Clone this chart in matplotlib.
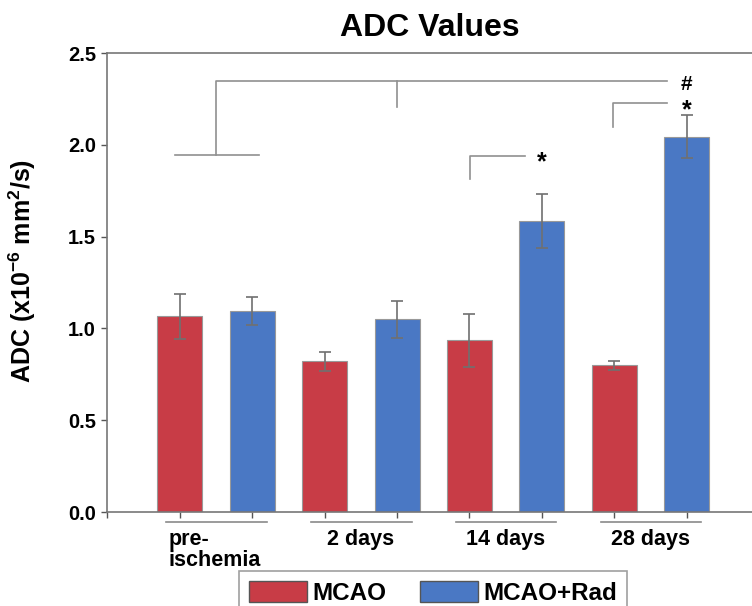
import matplotlib.pyplot as plt
from matplotlib.patches import Patch
import numpy as np

plt.rcParams['font.family'] = ['Liberation Sans', 'DejaVu Sans']
plt.rcParams['font.weight'] = 'bold'
plt.rcParams['mathtext.fontset'] = 'custom'
plt.rcParams['mathtext.rm'] = 'Liberation Sans:bold'
plt.rcParams['mathtext.bf'] = 'Liberation Sans:bold'
plt.rcParams['mathtext.default'] = 'bf'

groups = ['pre-\nischemia', '2 days', '14 days', '28 days']
mcao = [1.065, 0.82, 0.935, 0.80]
mcao_err = [0.12, 0.05, 0.145, 0.025]
rad = [1.095, 1.05, 1.585, 2.045]
rad_err = [0.075, 0.10, 0.145, 0.115]

RED = '#c83c46'
BLUE = '#4a78c4'
GREY = '#8a8a8a'

x = np.arange(len(groups))
w = 0.31
off = 0.25

fig = plt.figure(figsize=(7.52, 6.06), dpi=100)
ax = fig.add_axes([0.1423, 0.1551, 0.8577, 0.7574])

ekw = {'elinewidth': 1.2, 'capthick': 1.2}
ax.bar(x - off, mcao, w, color=RED, edgecolor='#999999', linewidth=0.8,
       yerr=mcao_err, ecolor='#707070', capsize=4.5, error_kw=ekw)
ax.bar(x + off, rad, w, color=BLUE, edgecolor='#999999', linewidth=0.8,
       yerr=rad_err, ecolor='#707070', capsize=4.5, error_kw=ekw)

ax.set_xlim(-0.752, 3.70)
ax.set_ylim(0, 2.5)
ax.set_yticks([0, 0.5, 1.0, 1.5, 2.0, 2.5])
ax.set_yticklabels(['0.0', '0.5', '1.0', '1.5', '2.0', '2.5'])
ax.set_xticks(np.concatenate([[-0.752], x - off, x + off]))
ax.set_xticklabels([])
ax.tick_params(axis='both', colors='#555555', length=4.5, width=1.0, labelsize=14.5, labelcolor='black')
ax.spines['right'].set_visible(False)
for s in ['left', 'top', 'bottom']:
    ax.spines[s].set_color('#777777')
    ax.spines[s].set_linewidth(1.2)

ax.set_ylabel('ADC (x10$^{-6}$ mm$^{2}$/s)', fontsize=18, fontweight='bold')
ax.yaxis.set_label_coords(-0.107, 0.525)
ax.set_title('ADC Values', fontsize=23, fontweight='bold', pad=12)

# group underlines and labels below the axis
trans = ax.get_xaxis_transform()
for i, g in enumerate(groups):
    ax.plot([i - 0.345, i + 0.35], [-0.022, -0.022], color=GREY, lw=1.2, transform=trans, clip_on=False)
    if i == 0:
        ax.text(i - 0.33, -0.038, g, transform=trans, ha='left', va='top', fontsize=15.5,
                fontweight='bold', linespacing=1.0)
    else:
        ax.text(i, -0.038, g, transform=trans, ha='center', va='top', fontsize=15.5, fontweight='bold')

# significance brackets
lc = '#909090'
ax.plot([0, 0, 3.11], [1.944, 2.347, 2.347], color=lc, lw=1.2)
ax.plot([-0.283, 0.297], [1.944, 1.944], color=lc, lw=1.2)
ax.plot([1.248, 1.248], [2.347, 2.206], color=lc, lw=1.2)
ax.plot([2.738, 2.738, 3.11], [2.097, 2.228, 2.228], color=lc, lw=1.2)
ax.plot([1.752, 1.752, 2.131], [1.814, 1.939, 1.939], color=lc, lw=1.2)
ax.text(3.25, 2.33, '#', ha='center', va='center', fontsize=15, fontweight='bold')
ax.text(3.25, 2.19, '*', ha='center', va='center', fontsize=18, fontweight='bold')
ax.text(2.25, 1.905, '*', ha='center', va='center', fontsize=18, fontweight='bold')

handles = [Patch(facecolor=RED, edgecolor='#555555'), Patch(facecolor=BLUE, edgecolor='#555555')]
leg = fig.legend(handles, ['MCAO', 'MCAO+Rad'], ncol=2, loc='upper center',
                 bbox_to_anchor=(433 / 752, 1 - 571 / 606), borderaxespad=0, fontsize=17.5,
                 frameon=True, fancybox=False, handlelength=2.4, handleheight=1.0,
                 columnspacing=1.4, handletextpad=0.2, borderpad=0.4)
leg.get_frame().set_edgecolor('#888888')
leg.get_frame().set_linewidth(1.2)

fig.savefig('out.png', dpi=100)
